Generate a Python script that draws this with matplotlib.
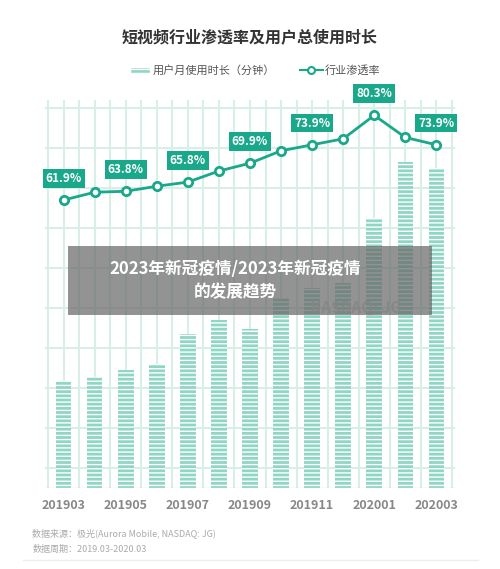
import matplotlib
matplotlib.use("Agg")
import matplotlib.pyplot as plt
import numpy as np

plt.rcParams['font.family'] = ['Noto Sans CJK SC', 'DejaVu Sans']
plt.rcParams['hatch.color'] = 'white'

months = ["201903","201904","201905","201906","201907","201908","201909","201910","201911","201912","202001","202002","202003"]
usage = [107,111,118,124,154,168,159,190,200,205,270,326,320]
rate = [61.9,63.6,63.8,64.9,65.8,68.2,69.9,72.6,73.9,75.2,80.3,75.5,73.9]
labeled = [0,2,4,6,8,10,12]
tick_labels = ["201903","201905","201907","201909","201911","202001","202003"]

teal = "#1aa88a"
barc = "#8fd6c4"
gridc = "#d7efe7"

fig = plt.figure(figsize=(5,5.69), dpi=100)
ax = fig.add_axes([0.09, 0.142, 0.82, 0.682])
x = np.arange(len(months))
ax.set_xlim(-0.6, len(months)-0.4)
ax.set_ylim(0, 388)
for xv in np.arange(-0.5, len(months), 0.5):
    ax.axvline(xv, color=gridc, lw=1.5, zorder=0)
for yv in np.arange(20, 388, 40):
    ax.axhline(yv, color=gridc, lw=1.5, zorder=0)
ax.bar(x, usage, width=0.5, color=barc, edgecolor="white", hatch="----", lw=0, zorder=2)
ax.axhline(0, color="#e0e0e0", lw=1)
for s in ax.spines.values():
    s.set_visible(False)
ax.set_yticks([])
ax.set_xticks(labeled)
ax.set_xticklabels(tick_labels, fontsize=9, color="#888888", fontweight="bold")
ax.tick_params(axis='x', length=0, pad=8)

ax2 = ax.twinx()
ax2.set_ylim(-0.7, 83.6)
ax2.axis('off')
ax2.plot(x, rate, color=teal, lw=2, marker='o', ms=6, mfc='white', mec=teal, mew=2, zorder=5)
for i in labeled:
    ax2.annotate(f"{rate[i]}%", (x[i], rate[i]), xytext=(0, 11), textcoords='offset points',
                 ha='center', va='bottom', fontsize=8.5, color='white', fontweight='bold',
                 bbox=dict(boxstyle='square,pad=0.25', fc=teal, ec='none'))

fig.text(0.5, 0.925, "短视频行业渗透率及用户总使用时长", ha='center', fontsize=11.5, fontweight='bold', color='#333333')
fig.patches.append(matplotlib.patches.Rectangle((0.26, 0.871), 0.04, 0.012, transform=fig.transFigure, fc=barc, ec='white', hatch='---'))
fig.text(0.305, 0.877, "用户月使用时长（分钟）", va='center', fontsize=8, color='#555555')
fig.add_artist(matplotlib.lines.Line2D([0.6, 0.645], [0.877, 0.877], transform=fig.transFigure, color=teal, lw=1.5))
fig.add_artist(matplotlib.lines.Line2D([0.622], [0.877], transform=fig.transFigure, color=teal, marker='o', ms=5, mfc='white', mew=1.5))
fig.text(0.65, 0.877, "行业渗透率", va='center', fontsize=8, color='#555555')

fig.text(0.62, 0.45, "NASDAQ: JG", fontsize=11, color='#cccccc', fontweight='bold', alpha=0.8)
fig.patches.append(matplotlib.patches.Rectangle((0.136, 0.447), 0.728, 0.12, transform=fig.transFigure, fc='#666666', alpha=0.7, ec='none', zorder=10))
fig.text(0.47, 0.507, "2023年新冠疫情/2023年新冠疫情\n的发展趋势", ha='center', va='center', fontsize=12, color='white', fontweight='bold', zorder=11, linespacing=1.4)

fig.text(0.065, 0.058, "数据来源：极光(Aurora Mobile, NASDAQ: JG)", fontsize=6.5, color='#aaaaaa', style='italic')
fig.text(0.065, 0.03, "数据周期：2019.03-2020.03", fontsize=6.5, color='#aaaaaa', style='italic')
fig.add_artist(matplotlib.lines.Line2D([0.045, 0.955], [0.015, 0.015], transform=fig.transFigure, color='#eeeeee', lw=1))
fig.savefig("out.png", dpi=100)
